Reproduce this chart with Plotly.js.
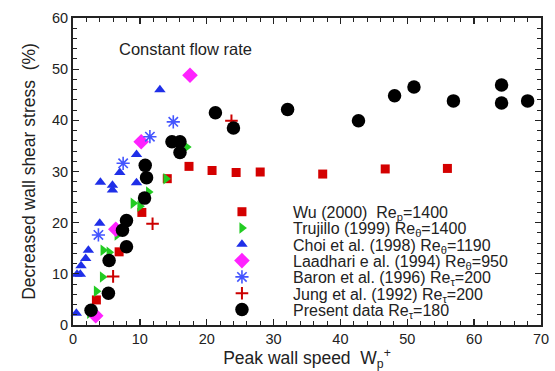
<!DOCTYPE html>
<html><head><meta charset="utf-8">
<script src="https://cdn.plot.ly/plotly-3.0.1.min.js"></script>
<style>body{margin:0;background:#fff}#c{width:555px;height:371px}</style>
</head><body><div id="c"></div>
<script>
const wuX = [3.5,6.9,10.3,14.1,17.35,20.8,24.4,28.0,37.35,46.7,56.0];
const wuY = [4.9,14.3,22.0,28.6,31.0,30.2,29.8,29.9,29.5,30.5,30.6];
const trX = [2.5,3.5,4.4,4.5,5.4,6.6,9.0,10.0,11.3,13.9,17.0];
const trY = [2.3,6.6,9.4,14.6,14.2,17.6,23.8,23.2,26.0,28.6,34.8];
const choiX = [0.5,0.6,1.1,1.2,1.9,2.3,4.0,4.1,5.9,5.9,7.0,9.5,9.5,13.0];
const choiY = [2.3,9.9,9.9,11.6,13.0,14.6,19.9,27.9,27.3,26.4,29.8,27.8,33.3,46.0];
const laX = [3.4,6.4,10.2,17.5];
const laY = [1.8,18.7,35.8,48.8];
const baX = [3.8,7.5,11.5,15.0];
const baY = [17.6,31.6,36.8,39.7];
const juX = [6.0,11.9,23.7];
const juY = [9.5,19.8,39.9];
const prX = [2.7,5.3,5.4,7.4,8.0,8.0,10.7,11.0,10.8,14.8,16.0,16.0,21.3,24.0,32.1,42.7,48.1,51.0,56.9,64.1,64.1,68.0];
const prY = [2.9,6.2,12.6,18.5,15.3,20.4,24.8,28.8,31.2,35.8,35.8,33.7,41.5,38.5,42.1,39.9,44.8,46.5,43.8,46.9,43.4,43.8];
const names = [
  'Wu (2000)  Re<sub>p</sub>=1400',
  'Trujillo (1999) Re<sub>θ</sub>=1400',
  'Choi et al. (1998) Re<sub>θ</sub>=1190',
  'Laadhari e al. (1994) Re<sub>θ</sub>=950',
  'Baron et al. (1996) Re<sub>τ</sub>=200',
  'Jung et al. (1992) Re<sub>τ</sub>=200',
  'Present data Re<sub>τ</sub>=180'
];
const F = 'Liberation Sans, Arial, sans-serif';
const series = [
  {x: wuX, y: wuY, marker:{symbol:'square', size:9, color:'#d40000'}},
  {x: trX, y: trY, marker:{symbol:'triangle-right', size:10, color:'#22cc22'}},
  {x: choiX, y: choiY, marker:{symbol:'triangle-up', size:10, color:'#1f2fe8'}},
  {x: laX, y: laY, marker:{symbol:'diamond', size:12, color:'#ff22ff'}},
  {x: baX, y: baY, marker:{symbol:'asterisk-open', size:11, color:'#4455ff', line:{width:1.6, color:'#4455ff'}}},
  {x: juX, y: juY, marker:{symbol:'cross-thin-open', size:9, color:'#cc0000', line:{width:2, color:'#cc0000'}}},
  {x: prX, y: prY, marker:{symbol:'circle', size:13.5, color:'#000000'}}
];
const traces = series.map((s, i) => ({type:'scatter', mode:'markers', cliponaxis:false, showlegend:false,
  name: names[i], x: s.x, y: s.y, marker: s.marker}));

// custom legend (compact rows), placed in a hidden 0..1 overlay frame
const legX = 0.361, legTextX = 0.466, legY0 = 0.369, legDy = 0.0531;
const annotations = [{xref:'paper', yref:'paper', x:0.095, y:0.9, xanchor:'left', yanchor:'middle', showarrow:false,
    text:'Constant flow rate', font:{family:F, size:16.5, color:'#222'}}];
series.forEach((s, i) => {
  const ly = legY0 - i * legDy;
  traces.push({type:'scatter', mode:'markers', xaxis:'x2', yaxis:'y2', showlegend:false, cliponaxis:false,
    x:[legX], y:[ly], marker: s.marker, hoverinfo:'skip'});
  annotations.push({xref:'paper', yref:'paper', x:legTextX, y:ly - 0.006, xanchor:'left', yanchor:'middle',
    showarrow:false, text:names[i], font:{family:F, size:16, color:'#222'}});
});

const axisCommon = {
  showgrid:false, zeroline:false, showline:true, linecolor:'#222', linewidth:2,
  mirror:'ticks', ticks:'inside', ticklen:6, tickwidth:1.3, tickcolor:'#222',
  tickfont:{family:F, size:14.5, color:'#222'},
  minor:{dtick:2, ticks:'inside', ticklen:4, tickwidth:1, tickcolor:'#222'}
};
const layout = {
  width:555, height:371,
  margin:{l:73, r:14, t:18, b:46},
  paper_bgcolor:'#fff', plot_bgcolor:'#fff',
  showlegend:false,
  xaxis: Object.assign({}, axisCommon, {range:[0,70], dtick:10, tick0:0,
    title:{text:'Peak wall speed  W<sub>p</sub><sup>+</sup>', font:{family:F, size:17.5, color:'#222'}, standoff:2}}),
  yaxis: Object.assign({}, axisCommon, {range:[0,60], dtick:10, tick0:0,
    title:{text:'Decreased wall shear stress  (%)', font:{family:F, size:17.5, color:'#222'}, standoff:12}}),
  xaxis2:{overlaying:'x', range:[0,1], visible:false, fixedrange:true},
  yaxis2:{overlaying:'y', range:[0,1], visible:false, fixedrange:true},
  annotations: annotations
};
Plotly.newPlot('c', traces, layout, {displayModeBar:false, staticPlot:true});
</script></body></html>
